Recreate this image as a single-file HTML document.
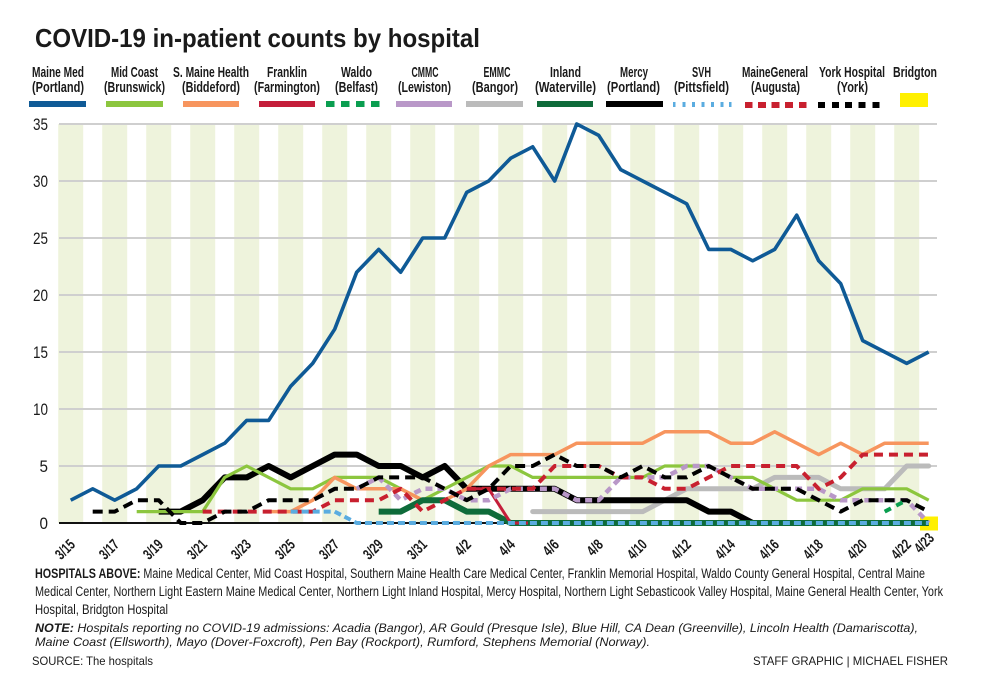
<!DOCTYPE html>
<html>
<head>
<meta charset="utf-8">
<style>
html,body{margin:0;padding:0;background:#fff;}
svg{display:block;}
text{font-family:"Liberation Sans", sans-serif;fill:#1a1a1a;}
</style>
</head>
<body>
<svg width="1000" height="690" viewBox="0 0 1000 690" xmlns="http://www.w3.org/2000/svg">
<rect x="0" y="0" width="1000" height="690" fill="#fff"/>

<!-- Title -->
<text x="35" y="47" font-size="26" font-weight="bold" textLength="445" lengthAdjust="spacingAndGlyphs">COVID-19 in-patient counts by hospital</text>

<!-- Legend labels -->
<g font-size="15" font-weight="bold" text-anchor="middle">
<text x="58" y="77" textLength="52" lengthAdjust="spacingAndGlyphs">Maine Med</text>
<text x="58" y="92" textLength="52" lengthAdjust="spacingAndGlyphs">(Portland)</text>
<text x="134.5" y="77" textLength="47" lengthAdjust="spacingAndGlyphs">Mid Coast</text>
<text x="134.5" y="92" textLength="61" lengthAdjust="spacingAndGlyphs">(Brunswick)</text>
<text x="211" y="77" textLength="76" lengthAdjust="spacingAndGlyphs">S. Maine Health</text>
<text x="211" y="92" textLength="58" lengthAdjust="spacingAndGlyphs">(Biddeford)</text>
<text x="287" y="77" textLength="40" lengthAdjust="spacingAndGlyphs">Franklin</text>
<text x="287" y="92" textLength="66" lengthAdjust="spacingAndGlyphs">(Farmington)</text>
<text x="356.5" y="77" textLength="31" lengthAdjust="spacingAndGlyphs">Waldo</text>
<text x="356.5" y="92" textLength="43" lengthAdjust="spacingAndGlyphs">(Belfast)</text>
<text x="425" y="77" textLength="27" lengthAdjust="spacingAndGlyphs">CMMC</text>
<text x="424.5" y="92" textLength="53" lengthAdjust="spacingAndGlyphs">(Lewiston)</text>
<text x="497" y="77" textLength="27" lengthAdjust="spacingAndGlyphs">EMMC</text>
<text x="495" y="92" textLength="46" lengthAdjust="spacingAndGlyphs">(Bangor)</text>
<text x="565.5" y="77" textLength="31" lengthAdjust="spacingAndGlyphs">Inland</text>
<text x="565.5" y="92" textLength="61" lengthAdjust="spacingAndGlyphs">(Waterville)</text>
<text x="634" y="77" textLength="28" lengthAdjust="spacingAndGlyphs">Mercy</text>
<text x="633.5" y="92" textLength="53" lengthAdjust="spacingAndGlyphs">(Portland)</text>
<text x="701.5" y="77" textLength="19" lengthAdjust="spacingAndGlyphs">SVH</text>
<text x="701.5" y="92" textLength="55" lengthAdjust="spacingAndGlyphs">(Pittsfield)</text>
<text x="775" y="77" textLength="66" lengthAdjust="spacingAndGlyphs">MaineGeneral</text>
<text x="775.5" y="92" textLength="49" lengthAdjust="spacingAndGlyphs">(Augusta)</text>
<text x="852" y="77" textLength="66" lengthAdjust="spacingAndGlyphs">York Hospital</text>
<text x="852.5" y="92" textLength="31" lengthAdjust="spacingAndGlyphs">(York)</text>
<text x="915" y="77" textLength="44" lengthAdjust="spacingAndGlyphs">Bridgton</text>
</g>

<!-- Legend swatches -->
<rect x="29" y="101" width="57" height="6" fill="#0f5a96"/>
<rect x="106" y="101" width="57" height="6" fill="#8cc63e"/>
<rect x="183" y="101" width="56" height="6" fill="#f7955e"/>
<rect x="259" y="101" width="56" height="6" fill="#c41e3a"/>
<g fill="#0a9e50">
<rect x="326" y="101" width="8.5" height="6"/>
<rect x="341" y="101" width="8.5" height="6"/>
<rect x="356" y="101" width="8.5" height="6"/>
<rect x="371" y="101" width="8.5" height="6"/>
</g>
<rect x="396" y="101" width="56" height="6" fill="#b998c8"/>
<rect x="466" y="101" width="57" height="6" fill="#bbbbbb"/>
<rect x="537" y="101" width="56" height="6" fill="#0e6b3a"/>
<rect x="606" y="101" width="57" height="6" fill="#000"/>
<g fill="#5aace0">
<rect x="673" y="102" width="2.5" height="5"/>
<rect x="682.5" y="102" width="3" height="5"/>
<rect x="692" y="102" width="3" height="5"/>
<rect x="701.5" y="102" width="3" height="5"/>
<rect x="711" y="102" width="3" height="5"/>
<rect x="720.5" y="102" width="3" height="5"/>
<rect x="729" y="102" width="2.5" height="5"/>
</g>
<g fill="#c8202f">
<rect x="745" y="102" width="7.5" height="6"/>
<rect x="758" y="102" width="8" height="6"/>
<rect x="771.5" y="102" width="8" height="6"/>
<rect x="785" y="102" width="8" height="6"/>
<rect x="799" y="102" width="7.5" height="6"/>
</g>
<g fill="#000">
<rect x="818" y="102" width="7" height="6"/>
<rect x="832" y="102" width="7" height="6"/>
<rect x="845" y="102" width="7" height="6"/>
<rect x="858.5" y="102" width="7" height="6"/>
<rect x="872.5" y="102" width="7" height="6"/>
</g>
<rect x="900" y="93" width="28" height="14" fill="#fff000"/>

<!-- Stripes -->
<g fill="#eef3dc">
<rect x="58.2" y="124" width="25" height="399"/>
<rect x="102.2" y="124" width="25" height="399"/>
<rect x="146.2" y="124" width="25" height="399"/>
<rect x="190.2" y="124" width="25" height="399"/>
<rect x="234.2" y="124" width="25" height="399"/>
<rect x="278.2" y="124" width="25" height="399"/>
<rect x="322.2" y="124" width="25" height="399"/>
<rect x="366.2" y="124" width="25" height="399"/>
<rect x="410.2" y="124" width="25" height="399"/>
<rect x="454.2" y="124" width="25" height="399"/>
<rect x="498.2" y="124" width="25" height="399"/>
<rect x="542.2" y="124" width="25" height="399"/>
<rect x="586.2" y="124" width="25" height="399"/>
<rect x="630.2" y="124" width="25" height="399"/>
<rect x="674.2" y="124" width="25" height="399"/>
<rect x="718.2" y="124" width="25" height="399"/>
<rect x="762.2" y="124" width="25" height="399"/>
<rect x="806.2" y="124" width="25" height="399"/>
<rect x="850.2" y="124" width="25" height="399"/>
<rect x="894.2" y="124" width="25" height="399"/>
</g>

<!-- Gridlines -->
<g stroke="#cfcfcf" stroke-width="2">
<line x1="59" y1="124" x2="937" y2="124"/>
<line x1="59" y1="181" x2="937" y2="181"/>
<line x1="59" y1="238" x2="937" y2="238"/>
<line x1="59" y1="295" x2="937" y2="295"/>
<line x1="59" y1="352" x2="937" y2="352"/>
<line x1="59" y1="409" x2="937" y2="409"/>
<line x1="59" y1="466" x2="937" y2="466"/>
</g>
<line x1="59" y1="523" x2="937" y2="523" stroke="#111" stroke-width="2"/>

<!-- Y labels -->
<g font-size="17" text-anchor="end" fill="#222">
<text x="48" y="130" textLength="15" lengthAdjust="spacingAndGlyphs">35</text>
<text x="48" y="187" textLength="15" lengthAdjust="spacingAndGlyphs">30</text>
<text x="48" y="244" textLength="15" lengthAdjust="spacingAndGlyphs">25</text>
<text x="48" y="301" textLength="15" lengthAdjust="spacingAndGlyphs">20</text>
<text x="48" y="358" textLength="15" lengthAdjust="spacingAndGlyphs">15</text>
<text x="48" y="415" textLength="15" lengthAdjust="spacingAndGlyphs">10</text>
<text x="48" y="472" textLength="8.5" lengthAdjust="spacingAndGlyphs">5</text>
<text x="48" y="529" textLength="8.5" lengthAdjust="spacingAndGlyphs">0</text>
</g>

<!-- Bridgton -->
<rect x="920" y="516.5" width="18" height="14" fill="#fff000"/>

<!-- Series -->
<g fill="none" stroke-linejoin="round">
<polyline stroke="#bbbbbb" stroke-width="5" stroke-linecap="round" points="532.7,511.6 554.7,511.6 576.7,511.6 598.7,511.6 620.7,511.6 642.7,511.6 664.7,500.2 686.7,488.8 708.7,488.8 730.7,488.8 752.7,488.8 774.7,477.4 796.7,477.4 818.7,477.4 840.7,488.8 862.7,488.8 884.7,488.8 906.7,466 928.7,466"/>
<polyline stroke="#000" stroke-width="6" points="158.7,511.6 180.7,511.6 202.7,500.2 224.7,477.4 246.7,477.4 268.7,466 290.7,477.4 312.7,466 334.7,454.6 356.7,454.6 378.7,466 400.7,466 422.7,477.4 444.7,466 466.7,488.8 488.7,488.8 510.7,488.8 532.7,488.8 554.7,488.8 576.7,500.2 598.7,500.2 620.7,500.2 642.7,500.2 664.7,500.2 686.7,500.2 708.7,511.6 730.7,511.6 752.7,523 928.7,523"/>
<polyline stroke="#8cc63e" stroke-width="3.2" points="136.7,511.6 158.7,511.6 180.7,511.6 202.7,511.6 224.7,477.4 246.7,466 268.7,477.4 290.7,488.8 312.7,488.8 334.7,477.4 356.7,477.4 378.7,477.4 400.7,488.8 422.7,500.2 444.7,488.8 466.7,477.4 488.7,466 510.7,466 532.7,477.4 554.7,477.4 576.7,477.4 598.7,477.4 620.7,477.4 642.7,477.4 664.7,466 686.7,466 708.7,466 730.7,477.4 752.7,477.4 774.7,488.8 796.7,500.2 818.7,500.2 840.7,500.2 862.7,488.8 884.7,488.8 906.7,488.8 928.7,500.2"/>
<polyline stroke="#f7955e" stroke-width="3.5" points="268.7,511.6 290.7,511.6 312.7,500.2 334.7,477.4 356.7,488.8 378.7,488.8 400.7,488.8 422.7,500.2 444.7,500.2 466.7,488.8 488.7,466 510.7,454.6 532.7,454.6 554.7,454.6 576.7,443.2 598.7,443.2 620.7,443.2 642.7,443.2 664.7,431.8 686.7,431.8 708.7,431.8 730.7,443.2 752.7,443.2 774.7,431.8 796.7,443.2 818.7,454.6 840.7,443.2 862.7,454.6 884.7,443.2 906.7,443.2 928.7,443.2"/>
<polyline stroke="#0e6b3a" stroke-width="6" points="378.7,511.6 400.7,511.6 422.7,500.2 444.7,500.2 466.7,511.6 488.7,511.6 510.7,523 928.7,523"/>
<polyline stroke="#c41e3a" stroke-width="3" points="466.7,488.8 488.7,488.8 510.7,523 528,523"/>
<polyline stroke="#b998c8" stroke-width="4.5" stroke-dasharray="7,5" points="356.7,488.8 378.7,477.4 400.7,500.2 422.7,488.8 444.7,488.8 466.7,500.2 488.7,500.2 510.7,488.8 532.7,488.8 554.7,488.8 576.7,500.2 598.7,500.2 620.7,477.4 642.7,477.4 664.7,477.4 686.7,466 708.7,466 730.7,477.4 752.7,488.8 774.7,488.8 796.7,488.8 818.7,488.8 840.7,500.2 862.7,500.2 884.7,500.2 906.7,500.2 928.7,523"/>
<polyline stroke="#c8202f" stroke-width="4" stroke-dasharray="9,6" points="202.7,511.6 224.7,511.6 246.7,511.6 268.7,511.6 290.7,511.6 312.7,511.6 334.7,500.2 356.7,500.2 378.7,500.2 400.7,488.8 422.7,511.6 444.7,500.2 466.7,488.8 488.7,488.8 510.7,488.8 532.7,488.8 554.7,466 576.7,466 598.7,466 620.7,477.4 642.7,477.4 664.7,488.8 686.7,488.8 708.7,477.4 730.7,466 752.7,466 774.7,466 796.7,466 818.7,488.8 840.7,477.4 862.7,454.6 884.7,454.6 906.7,454.6 928.7,454.6"/>
<polyline stroke="#000" stroke-width="4" stroke-dasharray="10,6" points="92.7,511.6 114.7,511.6 136.7,500.2 158.7,500.2 180.7,523 202.7,523 224.7,511.6 246.7,511.6 268.7,500.2 290.7,500.2 312.7,500.2 334.7,488.8 356.7,488.8 378.7,477.4 400.7,477.4 422.7,477.4 444.7,488.8 466.7,500.2 488.7,488.8 510.7,466 532.7,466 554.7,454.6 576.7,466 598.7,466 620.7,477.4 642.7,466 664.7,477.4 686.7,477.4 708.7,466 730.7,477.4 752.7,488.8 774.7,488.8 796.7,488.8 818.7,500.2 840.7,511.6 862.7,500.2 884.7,500.2 906.7,500.2 928.7,511.6"/>
<polyline stroke="#0a9e50" stroke-width="4" stroke-dasharray="7,6" points="884.7,511.6 906.7,500.2"/>
<polyline stroke="#5aace0" stroke-width="4" stroke-dasharray="7,4" points="290.7,511.6 312.7,511.6 334.7,511.6 356.7,523 928.7,523"/>
<polyline stroke="#0f5a96" stroke-width="3.6" points="70.7,500.2 92.7,488.8 114.7,500.2 136.7,488.8 158.7,466 180.7,466 202.7,454.6 224.7,443.2 246.7,420.4 268.7,420.4 290.7,386.2 312.7,363.4 334.7,329.2 356.7,272.2 378.7,249.4 400.7,272.2 422.7,238 444.7,238 466.7,192.4 488.7,181 510.7,158.2 532.7,146.8 554.7,181 576.7,124 598.7,135.4 620.7,169.6 642.7,181 664.7,192.4 686.7,203.8 708.7,249.4 730.7,249.4 752.7,260.8 774.7,249.4 796.7,215.2 818.7,260.8 840.7,283.6 862.7,340.6 884.7,352 906.7,363.4 928.7,352"/>
</g>

<!-- X labels -->
<g font-size="15" font-weight="bold" text-anchor="end" fill="#1a1a1a">
<text transform="translate(76,545.5) rotate(-45)" textLength="21" lengthAdjust="spacingAndGlyphs">3/15</text>
<text transform="translate(120,545.5) rotate(-45)" textLength="21" lengthAdjust="spacingAndGlyphs">3/17</text>
<text transform="translate(164,545.5) rotate(-45)" textLength="21" lengthAdjust="spacingAndGlyphs">3/19</text>
<text transform="translate(208,545.5) rotate(-45)" textLength="21" lengthAdjust="spacingAndGlyphs">3/21</text>
<text transform="translate(252,545.5) rotate(-45)" textLength="21" lengthAdjust="spacingAndGlyphs">3/23</text>
<text transform="translate(296,545.5) rotate(-45)" textLength="21" lengthAdjust="spacingAndGlyphs">3/25</text>
<text transform="translate(340,545.5) rotate(-45)" textLength="21" lengthAdjust="spacingAndGlyphs">3/27</text>
<text transform="translate(384,545.5) rotate(-45)" textLength="21" lengthAdjust="spacingAndGlyphs">3/29</text>
<text transform="translate(428,545.5) rotate(-45)" textLength="21" lengthAdjust="spacingAndGlyphs">3/31</text>
<text transform="translate(472,545.5) rotate(-45)" textLength="16" lengthAdjust="spacingAndGlyphs">4/2</text>
<text transform="translate(516,545.5) rotate(-45)" textLength="16" lengthAdjust="spacingAndGlyphs">4/4</text>
<text transform="translate(560,545.5) rotate(-45)" textLength="16" lengthAdjust="spacingAndGlyphs">4/6</text>
<text transform="translate(604,545.5) rotate(-45)" textLength="16" lengthAdjust="spacingAndGlyphs">4/8</text>
<text transform="translate(648,545.5) rotate(-45)" textLength="21" lengthAdjust="spacingAndGlyphs">4/10</text>
<text transform="translate(692,545.5) rotate(-45)" textLength="21" lengthAdjust="spacingAndGlyphs">4/12</text>
<text transform="translate(736,545.5) rotate(-45)" textLength="21" lengthAdjust="spacingAndGlyphs">4/14</text>
<text transform="translate(780,545.5) rotate(-45)" textLength="21" lengthAdjust="spacingAndGlyphs">4/16</text>
<text transform="translate(824,545.5) rotate(-45)" textLength="21" lengthAdjust="spacingAndGlyphs">4/18</text>
<text transform="translate(868,545.5) rotate(-45)" textLength="21" lengthAdjust="spacingAndGlyphs">4/20</text>
<text transform="translate(912,545.5) rotate(-45)" textLength="21" lengthAdjust="spacingAndGlyphs">4/22</text>
<text transform="translate(935,539) rotate(-45)" textLength="21" lengthAdjust="spacingAndGlyphs">4/23</text>
</g>

<!-- Footer -->
<g font-size="13.5" fill="#1a1a1a">
<text x="35" y="578" textLength="890" lengthAdjust="spacingAndGlyphs"><tspan font-weight="bold">HOSPITALS ABOVE:</tspan> Maine Medical Center, Mid Coast Hospital, Southern Maine Health Care Medical Center, Franklin Memorial Hospital, Waldo County General Hospital, Central Maine</text>
<text x="35" y="596" textLength="908" lengthAdjust="spacingAndGlyphs">Medical Center, Northern Light Eastern Maine Medical Center, Northern Light Inland Hospital, Mercy Hospital, Northern Light Sebasticook Valley Hospital, Maine General Health Center, York</text>
<text x="35" y="614" textLength="133" lengthAdjust="spacingAndGlyphs">Hospital, Bridgton Hospital</text>
</g>
<g font-size="12" font-style="italic" fill="#1a1a1a">
<text x="35" y="632" textLength="883" lengthAdjust="spacingAndGlyphs"><tspan font-weight="bold">NOTE:</tspan> Hospitals reporting no COVID-19 admissions: Acadia (Bangor), AR Gould (Presque Isle), Blue Hill, CA Dean (Greenville), Lincoln Health (Damariscotta),</text>
<text x="35" y="646" textLength="615" lengthAdjust="spacingAndGlyphs">Maine Coast (Ellsworth), Mayo (Dover-Foxcroft), Pen Bay (Rockport), Rumford, Stephens Memorial (Norway).</text>
</g>
<g font-size="12" fill="#1a1a1a">
<text x="32" y="665" textLength="121" lengthAdjust="spacingAndGlyphs">SOURCE: The hospitals</text>
<text x="753" y="665" textLength="195" lengthAdjust="spacingAndGlyphs">STAFF GRAPHIC | MICHAEL FISHER</text>
</g>
</svg>
</body>
</html>
